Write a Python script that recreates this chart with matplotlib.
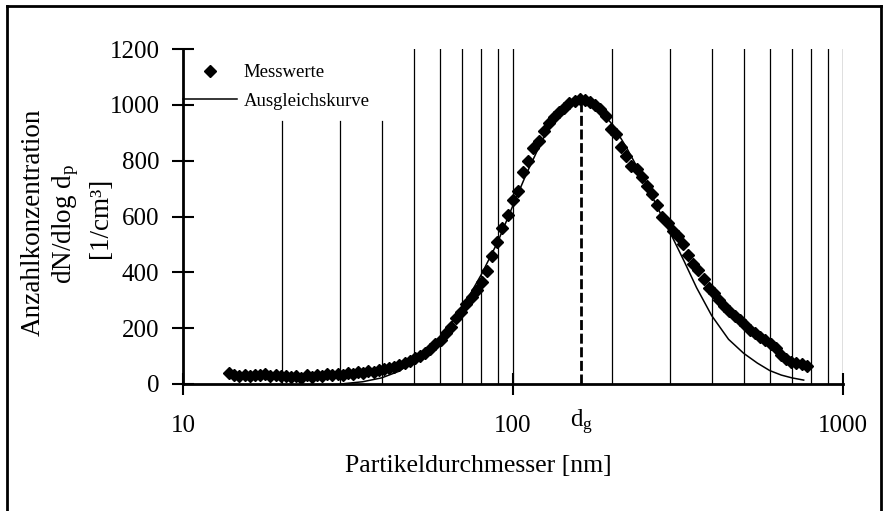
import matplotlib
matplotlib.use('Agg')
import matplotlib.pyplot as plt
from matplotlib.lines import Line2D
from matplotlib.ticker import NullLocator
import matplotlib.transforms as mtransforms

plt.rcParams['font.family'] = ['Liberation Serif', 'DejaVu Serif']
plt.rcParams['mathtext.fontset'] = 'custom'
plt.rcParams['mathtext.rm'] = 'Liberation Serif'
plt.rcParams['mathtext.it'] = 'Liberation Serif:italic'

# ---- data ----
diameter_nm = [13.80, 14.31, 14.83, 15.38, 15.94, 16.53, 17.13, 17.76, 18.41, 19.09,
               19.78, 20.51, 21.26, 22.04, 22.85, 23.68, 24.55, 25.45, 26.38, 27.35,
               28.35, 29.39, 30.46, 31.58, 32.73, 33.93, 35.18, 36.47, 37.80, 39.19,
               40.62, 42.11, 43.65, 45.25, 46.91, 48.63, 50.41, 52.25, 54.17, 56.15,
               58.21, 60.34, 62.55, 64.84, 67.22, 69.68, 72.23, 74.88, 77.62, 80.46,
               83.41, 86.47, 89.63, 92.92, 96.33, 99.86, 103.5, 107.3, 111.2, 115.3,
               119.5, 123.9, 128.5, 133.2, 138.0, 143.1, 148.3, 153.8, 159.4, 165.3,
               171.3, 177.6, 184.1, 190.9, 197.8, 205.1, 212.6, 220.4, 228.5, 236.8,
               245.5, 254.5, 263.8, 273.5, 283.5, 293.9, 304.6, 315.8, 327.3, 339.3,
               351.8, 364.7, 378.0, 391.9, 406.2, 421.1, 436.5, 452.5, 469.1, 486.3,
               504.1, 522.5, 541.7, 561.5, 582.1, 603.4, 625.5, 648.4, 672.2, 696.8,
               722.3, 748.8, 776.2]
messwerte = [40, 33, 30, 34, 29, 33, 31, 35, 28, 32,
             27, 30, 24, 29, 22, 31, 26, 33, 28, 36,
             31, 35, 33, 38, 35, 42, 38, 45, 44, 50,
             52, 57, 62, 68, 74, 82, 92, 100, 112, 127,
             145, 158, 183, 205, 235, 258, 288, 310, 335, 365,
             405, 460, 510, 560, 605, 660, 690, 760, 800, 845,
             870, 905, 935, 955, 975, 990, 1005, 1015, 1022, 1018,
             1010, 998, 985, 960, 915, 895, 850, 815, 780, 770,
             740, 710, 680, 640, 600, 575, 548, 530, 500, 462,
             430, 410, 375, 345, 325, 300, 280, 262, 245, 228,
             210, 195, 182, 170, 158, 145, 128, 105, 90, 80,
             75, 70, 64]

fit_d = [30, 35, 40, 45, 50, 55, 60, 70, 80, 90, 100, 110, 120, 130, 140, 150,
         160, 170, 180, 200, 220, 250, 280, 300, 330, 360, 400, 450, 500, 550,
         600, 650, 700, 760]
fit_v = [0, 8, 22, 45, 80, 120, 165, 270, 390, 510, 640, 755, 850, 930, 985, 1010,
         1018, 1010, 990, 930, 850, 730, 610, 540, 440, 345, 245, 160, 110, 75,
         48, 32, 22, 14]

dg_value = 161
dg_peak = 1020

x_ticks = [10, 100, 1000]
x_ticklabels = ['10', '100', '1000']
y_ticks = [0, 200, 400, 600, 800, 1000, 1200]
grid_x = [20, 30, 40, 50, 60, 70, 80, 90, 100,
          200, 300, 400, 500, 600, 700, 800, 900, 1000]
legend_labels = ['Messwerte', 'Ausgleichskurve']

# ---- figure ----
W, H = 887, 511
fig = plt.figure(figsize=(W / 100, H / 100), dpi=100)
ax = fig.add_axes([183 / W, 1 - 384 / H, (843 - 183) / W, (384 - 49) / H])

ax.set_xscale('log')
ax.set_xlim(10, 1000)
ax.set_ylim(0, 1200)

for g in grid_x:
    top = 0.785 if g < 50 else 1.0
    ax.axvline(g, ymin=0, ymax=top, color='black', lw=0.9, zorder=1)

ax.plot(fit_d, fit_v, color='black', lw=1.1, zorder=3)
ax.plot(diameter_nm, messwerte, ls='none', marker='D', ms=6.2,
        color='black', mec='black', zorder=4)
ax.plot([dg_value, dg_value], [0, dg_peak], color='black', lw=2.0,
        dashes=(3.6, 1.3), zorder=2)

ax.set_xticks(x_ticks)
ax.set_xticklabels(x_ticklabels)
ax.xaxis.set_minor_locator(NullLocator())
ax.set_yticks(y_ticks)
ax.tick_params(axis='both', direction='inout', length=16, width=1.5,
               labelsize=18, colors='black')
ax.tick_params(axis='x', pad=14)
ax.tick_params(axis='y', pad=9)

for s in ['top', 'right']:
    ax.spines[s].set_visible(False)
for s in ['left', 'bottom']:
    ax.spines[s].set_linewidth(2.0)

# d_g label under the dashed line
trans = mtransforms.blended_transform_factory(ax.transData, ax.transAxes)
ax.text(dg_value, -0.115, r'$\mathregular{d_g}$', transform=trans,
        ha='center', va='center', fontsize=18)

# legend
handles = [Line2D([], [], ls='none', marker='D', ms=6.5, color='black'),
           Line2D([], [], color='black', lw=1.1)]
ax.legend(handles, legend_labels, loc='upper left', bbox_to_anchor=(0, 0.955),
          frameon=False, fontsize=13.5, handlelength=2.9, handletextpad=0.35,
          borderpad=0, borderaxespad=0, labelspacing=0.62)

# axis labels
fig.text(478 / W, 1 - 466 / H, 'Partikeldurchmesser [nm]', ha='center',
         va='center', fontsize=18.5)
fig.text(33 / W, 1 - 222 / H, 'Anzahlkonzentration', rotation=90,
         ha='center', va='center', fontsize=19.5)
fig.text(66 / W, 1 - 224 / H, r'dN/dlog $\mathregular{d_p}$', rotation=90,
         ha='center', va='center', fontsize=19.5)
fig.text(101 / W, 1 - 218 / H, '[1/cm³]', rotation=90,
         ha='center', va='center', fontsize=19.5)

# outer frame (left, top, right)
fr = dict(color='black', lw=2, transform=fig.transFigure)
fig.add_artist(Line2D([7 / W, 7 / W], [0, 1 - 6 / H], **fr))
fig.add_artist(Line2D([7 / W, 881 / W], [1 - 6 / H, 1 - 6 / H], **fr))
fig.add_artist(Line2D([881 / W, 881 / W], [0, 1 - 6 / H], **fr))

fig.savefig('out.png', dpi=100)
